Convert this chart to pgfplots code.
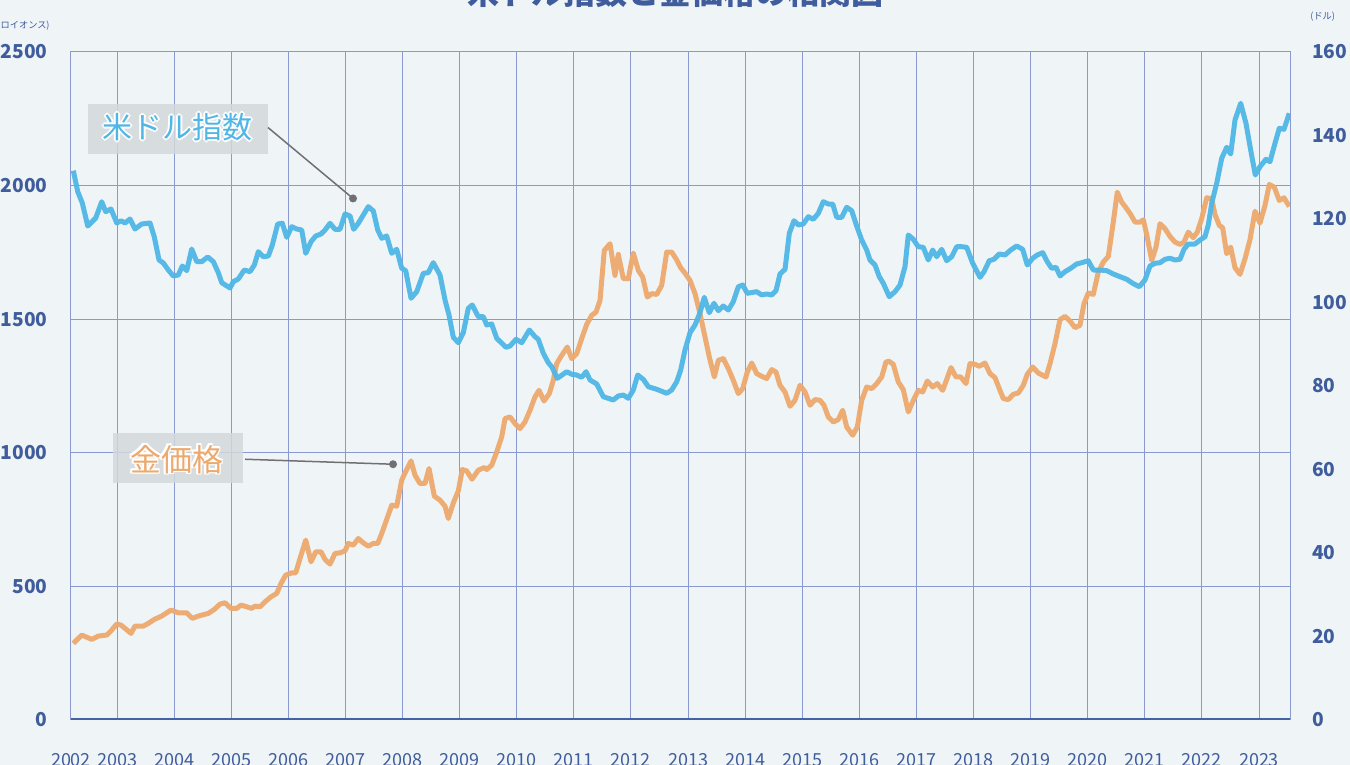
\documentclass[border=0pt]{standalone}
\usepackage{pgfplots}
\pgfplotsset{compat=1.18}
\usepackage{fontspec}
\setmainfont{Noto Sans CJK JP}
\definecolor{bgc}{HTML}{EFF4F7}
\definecolor{gridc}{HTML}{8A99CF}
\definecolor{axc}{HTML}{4463A5}
\definecolor{tickc}{HTML}{3F5C9C}
\definecolor{bluec}{HTML}{4FB6E6}
\definecolor{goldc}{HTML}{EDA96C}
\definecolor{boxc}{HTML}{D3D8DB}
\definecolor{pointc}{HTML}{707070}
\newcommand{\outlined}[4]{%
  \node[white,font=#3] at (#1) [xshift=0.8pt] {#4};
  \node[white,font=#3] at (#1) [xshift=-0.8pt] {#4};
  \node[white,font=#3] at (#1) [yshift=0.8pt] {#4};
  \node[white,font=#3] at (#1) [yshift=-0.8pt] {#4};
  \node[white,font=#3] at (#1) [xshift=0.55pt,yshift=0.55pt] {#4};
  \node[white,font=#3] at (#1) [xshift=-0.55pt,yshift=0.55pt] {#4};
  \node[white,font=#3] at (#1) [xshift=0.55pt,yshift=-0.55pt] {#4};
  \node[white,font=#3] at (#1) [xshift=-0.55pt,yshift=-0.55pt] {#4};
  \node[#2,font=#3] at (#1) {#4};
}
\begin{document}
\begin{tikzpicture}
\fill[bgc] (0,0) rectangle (675pt,382.5pt);
\begin{axis}[
  at={(35.5pt,22.5pt)}, anchor=south west,
  scale only axis, width=609.5pt, height=334pt,
  xmin=2002.194, xmax=2023.543, ymin=0, ymax=2500,
  xtick={2002.194,2003,2004,2005,2006,2007,2008,2009,2010,2011,2012,2013,2014,2015,2016,2017,2018,2019,2020,2021,2022,2023},
  xticklabels={2002,2003,2004,2005,2006,2007,2008,2009,2010,2011,2012,2013,2014,2015,2016,2017,2018,2019,2020,2021,2022,2023},
  ytick={0,500,1000,1500,2000,2500},
  /pgf/number format/1000 sep={},
  /pgf/number format/assume math mode=true,
  grid=major,
  major grid style={gridc, line width=0.5pt},
  axis line style={gridc, line width=0.5pt},
  tick style={draw=none},
  yticklabel style={font=\fontsize{9.6}{11.5}\selectfont\bfseries, text=tickc, xshift=-8.2pt},
  xticklabel style={font=\fontsize{9}{11}\selectfont, text=tickc, yshift=-13pt},
]
\addplot[goldc, line width=2.5pt, line join=round, opacity=0.95] coordinates {
(2002.235,286.8) (2002.382,317.8) (2002.557,301.8) (2002.673,314.1) (2002.820,317.8) (2002.907,336.5)
(2002.995,359.0) (2003.070,355.2) (2003.140,342.9) (2003.245,324.2) (2003.315,351.5) (2003.461,351.5)
(2003.548,361.6) (2003.653,376.5) (2003.783,388.9) (2003.870,401.2) (2003.946,411.3) (2004.074,401.2)
(2004.221,401.2) (2004.319,380.3) (2004.424,388.9) (2004.599,399.0) (2004.704,413.9) (2004.804,433.7)
(2004.891,438.6) (2004.996,417.7) (2005.096,417.7) (2005.172,430.0) (2005.271,423.7) (2005.359,417.7)
(2005.417,426.3) (2005.504,423.7) (2005.592,442.4) (2005.697,461.0) (2005.797,473.8) (2005.872,511.1)
(2005.954,542.2) (2006.060,550.8) (2006.130,550.8) (2006.205,604.6) (2006.305,673.1) (2006.398,591.9)
(2006.480,629.3) (2006.573,629.3) (2006.643,600.9) (2006.730,583.3) (2006.818,623.3) (2006.905,625.6)
(2006.993,633.0) (2007.051,660.7) (2007.138,654.4) (2007.226,679.4) (2007.313,663.0) (2007.401,650.6)
(2007.489,660.7) (2007.566,660.7) (2007.636,698.1) (2007.723,750.5) (2007.811,803.9) (2007.898,800.2)
(2007.986,897.4) (2008.044,924.7) (2008.149,969.6) (2008.219,916.1) (2008.306,885.1) (2008.394,885.1)
(2008.464,941.2) (2008.557,837.6) (2008.657,822.6) (2008.744,800.2) (2008.802,754.2) (2008.890,812.5)
(2008.977,857.4) (2009.047,937.4) (2009.124,932.2) (2009.217,901.1) (2009.327,934.8) (2009.433,944.9)
(2009.475,937.4) (2009.562,953.5) (2009.650,1003.2) (2009.737,1059.3) (2009.795,1128.1) (2009.883,1134.1)
(2009.970,1109.4) (2010.058,1090.7) (2010.145,1115.4) (2010.233,1159.2) (2010.320,1208.9) (2010.391,1233.9)
(2010.478,1193.9) (2010.571,1221.6) (2010.641,1271.3) (2010.700,1333.8) (2010.788,1364.8) (2010.886,1395.9)
(2010.963,1352.5) (2011.051,1371.2) (2011.138,1427.2) (2011.226,1480.7) (2011.313,1514.4) (2011.389,1526.7)
(2011.459,1570.5) (2011.534,1757.4) (2011.634,1782.5) (2011.721,1664.0) (2011.779,1742.5) (2011.867,1651.6)
(2011.954,1651.6) (2012.042,1747.3) (2012.130,1682.6) (2012.207,1657.6) (2012.287,1582.8) (2012.364,1595.5)
(2012.452,1592.9) (2012.539,1626.6) (2012.627,1751.1) (2012.714,1751.1) (2012.790,1726.4) (2012.872,1692.7)
(2012.947,1672.5) (2013.035,1645.2) (2013.123,1595.5) (2013.210,1520.7) (2013.298,1433.2) (2013.373,1358.5)
(2013.461,1283.7) (2013.531,1346.1) (2013.618,1352.5) (2013.706,1315.1) (2013.793,1271.3) (2013.881,1221.6)
(2013.958,1240.3) (2014.038,1302.4) (2014.116,1336.0) (2014.203,1296.4) (2014.290,1286.3) (2014.378,1277.7)
(2014.466,1311.4) (2014.541,1302.4) (2014.611,1252.6) (2014.699,1227.6) (2014.786,1174.1) (2014.874,1196.5)
(2014.961,1252.6) (2015.049,1227.6) (2015.137,1177.8) (2015.224,1199.2) (2015.312,1196.5) (2015.382,1177.8)
(2015.457,1134.1) (2015.545,1115.4) (2015.632,1124.4) (2015.709,1159.2) (2015.779,1096.7) (2015.884,1065.7)
(2015.965,1096.7) (2016.042,1196.5) (2016.129,1246.3) (2016.217,1240.3) (2016.305,1259.0) (2016.392,1283.7)
(2016.467,1339.7) (2016.520,1342.4) (2016.595,1331.2) (2016.683,1265.0) (2016.770,1236.5) (2016.858,1152.8)
(2016.946,1196.5) (2017.033,1233.9) (2017.110,1227.6) (2017.191,1268.7) (2017.285,1246.3) (2017.366,1259.0)
(2017.460,1233.9) (2017.530,1273.9) (2017.606,1318.8) (2017.693,1283.7) (2017.776,1283.7) (2017.869,1259.0)
(2017.939,1333.8) (2018.026,1331.2) (2018.101,1323.7) (2018.201,1336.0) (2018.289,1296.4) (2018.376,1281.4)
(2018.451,1240.3) (2018.522,1202.9) (2018.610,1199.2) (2018.697,1219.0) (2018.785,1223.8) (2018.872,1252.6)
(2018.942,1293.8) (2019.037,1321.1) (2019.135,1298.6) (2019.270,1283.7) (2019.340,1333.8) (2019.427,1408.6)
(2019.515,1498.3) (2019.602,1510.6) (2019.690,1493.1) (2019.777,1468.4) (2019.865,1477.0) (2019.935,1558.1)
(2020.010,1597.8) (2020.098,1592.9) (2020.186,1676.3) (2020.273,1713.7) (2020.361,1735.0) (2020.448,1863.3)
(2020.518,1975.4) (2020.596,1938.0) (2020.671,1917.1) (2020.753,1892.0) (2020.828,1863.3) (2020.916,1863.3)
(2020.974,1872.2) (2021.033,1817.3) (2021.121,1720.0) (2021.196,1769.8) (2021.266,1857.3) (2021.354,1838.6)
(2021.441,1809.8) (2021.529,1788.5) (2021.616,1779.9) (2021.686,1788.5) (2021.762,1825.9) (2021.849,1804.9)
(2021.919,1825.9) (2021.996,1875.9) (2022.084,1954.5) (2022.172,1950.7) (2022.229,1892.0) (2022.305,1850.9)
(2022.364,1842.3) (2022.434,1745.1) (2022.504,1769.8) (2022.580,1692.7) (2022.667,1667.7) (2022.755,1726.4)
(2022.842,1797.4) (2022.930,1904.4) (2023.017,1859.5) (2023.105,1925.7) (2023.180,2004.2) (2023.268,1994.2)
(2023.355,1944.4) (2023.438,1954.5) (2023.530,1921.9)
};
\draw[boxc, fill=boxc, fill opacity=0.85, draw opacity=0] (axis cs:2002.492,2120.1) rectangle (axis cs:2005.644,2307.1);
\draw[boxc, fill=boxc, fill opacity=0.85, draw opacity=0] (axis cs:2002.930,886.2) rectangle (axis cs:2005.207,1073.2);
\draw[pointc, line width=0.75pt] (axis cs:2005.644,2217.3) -- (axis cs:2007.133,1951.9);
\fill[pointc] (axis cs:2007.133,1951.9) circle (2pt);
\draw[pointc, line width=0.75pt] (axis cs:2005.242,975.9) -- (axis cs:2007.834,957.2);
\fill[pointc] (axis cs:2007.834,957.2) circle (2pt);
\outlined{axis cs:2004.060,2218.5}{bluec}{\fontsize{15}{18}\selectfont}{米ドル指数}
\outlined{axis cs:2004.042,975.9}{goldc}{\fontsize{15.5}{18}\selectfont}{金価格}
\draw[axc, line width=1.6pt] (axis cs:2002.194,0) -- (axis cs:2023.543,0);
\end{axis}
\begin{axis}[
  at={(35.5pt,22.5pt)}, anchor=south west,
  scale only axis, width=609.5pt, height=334pt,
  xmin=2002.194, xmax=2023.543, ymin=0, ymax=160,
  axis y line*=right, axis x line=none,
  ytick={0,20,40,60,80,100,120,140,160},
  /pgf/number format/assume math mode=true,
  axis line style={draw=none},
  tick style={draw=none},
  yticklabel style={font=\fontsize{9.6}{11.5}\selectfont\bfseries, text=tickc, xshift=7.6pt},
]
\addplot[bluec, line width=2.5pt, line join=round, opacity=0.95] coordinates {
(2002.235,131.57) (2002.312,126.54) (2002.392,123.83) (2002.487,118.32) (2002.627,120.24) (2002.732,124.14)
(2002.802,121.75) (2002.895,122.39) (2002.995,119.04) (2003.070,119.59) (2003.140,119.04) (2003.228,120.00)
(2003.315,117.60) (2003.433,118.80) (2003.578,119.04) (2003.653,115.69) (2003.736,110.18) (2003.811,109.46)
(2003.898,107.78) (2003.986,106.35) (2004.074,106.59) (2004.144,108.74) (2004.221,107.62) (2004.308,112.81)
(2004.396,109.77) (2004.483,109.77) (2004.588,110.90) (2004.687,109.77) (2004.774,107.14) (2004.834,104.74)
(2004.979,103.47) (2005.037,104.98) (2005.124,105.63) (2005.229,107.78) (2005.329,107.38) (2005.405,108.98)
(2005.475,112.17) (2005.562,110.97) (2005.650,111.14) (2005.720,113.77) (2005.814,118.80) (2005.895,118.97)
(2005.972,115.62) (2006.060,118.16) (2006.147,117.60) (2006.235,117.36) (2006.305,111.78) (2006.398,114.56)
(2006.480,115.93) (2006.573,116.41) (2006.643,117.36) (2006.730,118.97) (2006.818,117.53) (2006.905,117.53)
(2006.993,121.20) (2007.081,120.72) (2007.145,117.53) (2007.226,118.97) (2007.313,120.96) (2007.401,122.95)
(2007.489,121.92) (2007.566,117.36) (2007.636,115.38) (2007.723,115.93) (2007.811,111.78) (2007.898,112.74)
(2007.986,108.19) (2008.056,107.62) (2008.149,101.01) (2008.249,102.59) (2008.364,106.99) (2008.452,107.14)
(2008.539,109.53) (2008.657,106.59) (2008.744,100.60) (2008.814,97.01) (2008.890,91.66) (2008.977,90.37)
(2009.065,92.77) (2009.152,98.61) (2009.222,99.40) (2009.327,96.60) (2009.415,96.60) (2009.475,94.61)
(2009.562,94.85) (2009.650,91.42) (2009.813,89.27) (2009.883,89.58) (2009.988,91.18) (2010.088,90.37)
(2010.221,93.41) (2010.320,91.81) (2010.378,91.18) (2010.466,87.83) (2010.553,85.58) (2010.613,84.62)
(2010.711,81.84) (2010.876,83.42) (2010.963,82.80) (2011.051,82.63) (2011.138,82.08) (2011.214,83.42)
(2011.284,81.44) (2011.401,80.48) (2011.517,77.44) (2011.692,76.65) (2011.779,77.60) (2011.867,77.84)
(2011.954,77.05) (2012.042,79.04) (2012.119,82.63) (2012.217,81.60) (2012.305,79.83) (2012.452,79.21)
(2012.627,78.25) (2012.714,79.04) (2012.802,81.03) (2012.872,83.83) (2012.947,88.62) (2013.035,92.77)
(2013.123,94.61) (2013.210,97.56) (2013.285,101.24) (2013.373,97.56) (2013.455,99.81) (2013.531,98.04)
(2013.618,99.16) (2013.706,98.20) (2013.793,100.19) (2013.881,103.78) (2013.958,104.19) (2014.038,102.20)
(2014.203,102.59) (2014.290,101.80) (2014.378,102.04) (2014.466,101.80) (2014.541,102.83) (2014.611,106.83)
(2014.699,107.95) (2014.774,116.57) (2014.856,119.59) (2014.932,118.56) (2015.019,118.80) (2015.107,120.55)
(2015.194,119.93) (2015.282,121.36) (2015.369,124.14) (2015.457,123.59) (2015.534,123.59) (2015.604,120.41)
(2015.692,120.41) (2015.779,122.80) (2015.867,121.99) (2015.954,118.32) (2016.042,114.97) (2016.129,112.57)
(2016.187,110.18) (2016.275,108.98) (2016.350,106.18) (2016.420,104.60) (2016.525,101.39) (2016.625,102.59)
(2016.713,104.19) (2016.800,108.57) (2016.858,116.17) (2016.946,115.14) (2017.033,113.36) (2017.121,113.22)
(2017.208,110.18) (2017.285,112.57) (2017.355,110.97) (2017.443,112.74) (2017.530,110.01) (2017.618,110.97)
(2017.706,113.36) (2017.793,113.36) (2017.881,113.22) (2017.986,109.39) (2018.114,106.03) (2018.184,107.38)
(2018.276,110.01) (2018.359,110.35) (2018.451,111.62) (2018.552,111.38) (2018.651,112.57) (2018.756,113.53)
(2018.861,112.74) (2018.942,108.98) (2019.037,110.59) (2019.117,111.38) (2019.212,111.93) (2019.292,109.77)
(2019.369,108.19) (2019.445,108.43) (2019.515,106.35) (2019.602,107.38) (2019.702,108.19) (2019.807,109.22)
(2019.895,109.53) (2020.010,110.01) (2020.098,107.78) (2020.215,107.78) (2020.333,107.62) (2020.448,106.83)
(2020.566,106.18) (2020.683,105.56) (2020.788,104.60) (2020.904,103.78) (2021.003,105.39) (2021.091,108.74)
(2021.178,109.39) (2021.266,109.53) (2021.354,110.35) (2021.441,110.59) (2021.529,110.18) (2021.616,110.35)
(2021.686,112.74) (2021.762,114.01) (2021.879,114.01) (2021.967,114.97) (2022.054,115.76) (2022.112,118.56)
(2022.172,123.76) (2022.259,128.55) (2022.347,134.54) (2022.434,137.17) (2022.504,135.57) (2022.580,143.71)
(2022.679,147.71) (2022.772,142.92) (2022.854,136.53) (2022.935,130.54) (2023.017,132.53) (2023.122,134.30)
(2023.192,133.72) (2023.280,138.13) (2023.355,141.72) (2023.438,141.48) (2023.530,145.32)
};
\end{axis}
\node[anchor=base, text=tickc, font=\fontsize{16}{19}\selectfont\bfseries] at (337.5pt,380pt) {米ドル指数と金価格の相関図};
\node[anchor=east, text=tickc, font=\fontsize{4.6}{5.5}\selectfont, inner sep=0pt] at (25pt,369.5pt) {(ドル/トロイオンス)};
\node[anchor=west, text=tickc, font=\fontsize{4.6}{5.5}\selectfont, inner sep=0pt] at (655pt,374pt) {(ドル)};
\pgfresetboundingbox
\useasboundingbox (0,0) rectangle (675pt,382.5pt);
\end{tikzpicture}
\end{document}
